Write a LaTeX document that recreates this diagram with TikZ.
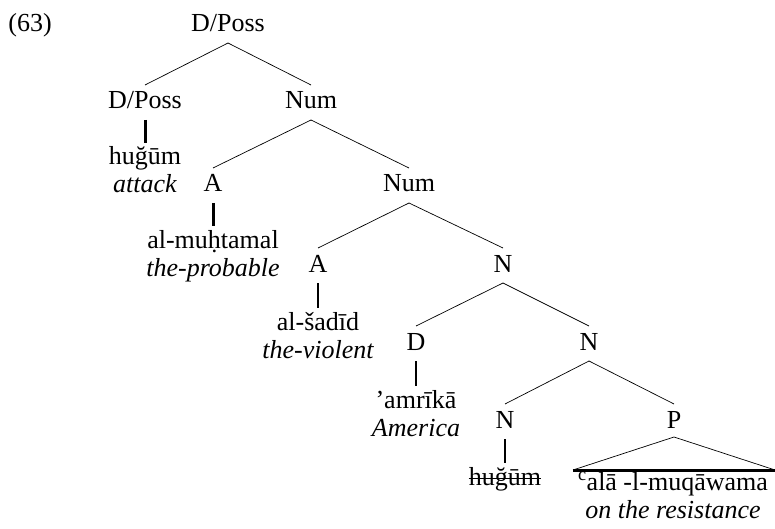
\documentclass[tikz,border=0pt]{standalone}
\usepackage{fontspec}
\setmainfont{Liberation Serif}
\begin{document}
\begin{tikzpicture}[x=1pt,y=-1pt,
  every node/.style={inner sep=0pt, anchor=base, font=\fontsize{26}{28}\selectfont},
  br/.style={line width=0.7pt},
  stem/.style={line width=2pt},
  tri/.style={line width=0.7pt},
  gl/.style={font=\fontsize{26}{28}\selectfont\itshape}]
\useasboundingbox (0,0) rectangle (775,529);
% example number
\node (ex) at (30,32) {(63)};
% categories
\node (root) at (228,32) {D/Poss};
\node (dp)   at (145,109) {D/Poss};
\node (num1) at (311,109) {Num};
\node (a1)   at (213,192) {A};
\node (num2) at (409,192) {Num};
\node (a2)   at (318,272) {A};
\node (n3)   at (503,272) {N};
\node (d)    at (416,350) {D};
\node (n4)   at (589,350) {N};
\node (n5)   at (505,428) {N};
\node (p)    at (674,428) {P};
% words and glosses
\node (w1) at (145,165) {huğūm};
\node[gl] (g1) at (145,193) {attack};
\node (w2) at (213,248) {al-muḥtamal};
\node[gl] (g2) at (213,276) {the-probable};
\node (w3) at (318,330) {al-šadīd};
\node[gl] (g3) at (318,358) {the-violent};
\node (w4) at (416,408) {’amrīkā};
\node[gl] (g4) at (416,436) {America};
\node (w5) at (505,485) {huğūm};
\node (w6) at (673,490) {\textsuperscript{c}alā -l-muqāwama};
\node[gl] (g6) at (673,518) {on the resistance};
% branches
\foreach \m/\c in {root/dp,root/num1,num1/a1,num1/num2,num2/a2,num2/n3,n3/d,n3/n4,n4/n5,n4/p}
  \draw[br] ([yshift=-11pt]\m.base) -- ([yshift=24pt]\c.base);
% stems
\foreach \c/\w/\lw in {dp/w1/3,a1/w2/3,a2/w3/1.3,d/w4/2,n5/w5/1.6}
  \draw[line width=\lw pt] ([yshift=-11pt]\c.base) -- ([yshift=22pt]\w.base);
% triangle
\coordinate (tl) at (573,470);
\coordinate (tr) at (775,470);
\draw[tri] (tl) -- ([yshift=-9pt]p.base) -- (tr);
\draw[line width=3pt] (tl) -- (tr);
% strike-through
\draw[line width=1pt] ([yshift=7pt]w5.base west) -- ([yshift=7pt]w5.base east);
\end{tikzpicture}
\end{document}
